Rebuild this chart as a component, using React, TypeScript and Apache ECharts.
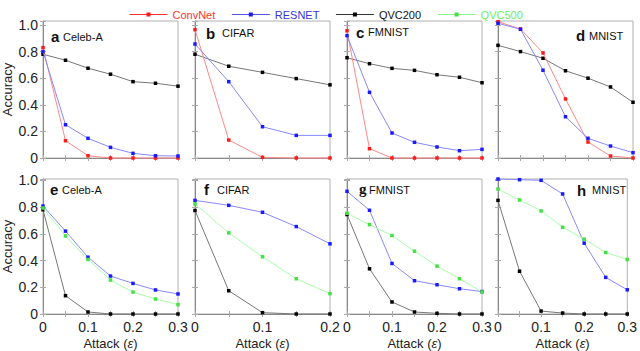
import React, { useEffect, useRef } from "react";
import * as echarts from "echarts";

// x values (attack epsilon)
const eps7 = [0, 0.05, 0.1, 0.15, 0.2, 0.25, 0.3];
const eps5 = [0, 0.05, 0.1, 0.15, 0.2];

// top row: ConvNet / RESNET / QVC200
const convA = [0.83, 0.13, 0.017, 0, 0, 0, 0];
const resA = [0.8, 0.25, 0.148, 0.08, 0.035, 0.017, 0.015];
const q200A = [0.78, 0.735, 0.675, 0.63, 0.574, 0.562, 0.54];
const convB = [0.965, 0.135, 0.005, 0, 0];
const resB = [0.857, 0.574, 0.235, 0.17, 0.17];
const q200B = [0.78, 0.69, 0.644, 0.597, 0.55];
const convC = [0.957, 0.07, 0, 0, 0, 0, 0];
const resC = [0.92, 0.494, 0.188, 0.118, 0.083, 0.055, 0.065];
const q200C = [0.754, 0.709, 0.674, 0.659, 0.626, 0.607, 0.566];
const convD = [1.025, 0.97, 0.79, 0.444, 0.12, 0.015, 0];
const resD = [1.013, 0.968, 0.66, 0.31, 0.148, 0.09, 0.04];
const q200D = [0.847, 0.8, 0.75, 0.656, 0.6, 0.534, 0.419];

// bottom row: RESNET / QVC500 / QVC200
const resE = [0.808, 0.62, 0.425, 0.284, 0.229, 0.18, 0.15];
const q500E = [0.793, 0.584, 0.408, 0.254, 0.164, 0.112, 0.07];
const q200E = [0.78, 0.137, 0.015, 0, 0, 0, 0];
const resF = [0.85, 0.813, 0.761, 0.654, 0.525];
const q500F = [0.823, 0.607, 0.428, 0.264, 0.152];
const q200F = [0.774, 0.174, 0.01, 0, 0];
const resG = [0.918, 0.776, 0.378, 0.249, 0.219, 0.189, 0.168];
const q500G = [0.754, 0.669, 0.587, 0.47, 0.358, 0.264, 0.165];
const q200G = [0.744, 0.338, 0.09, 0.015, 0.005, 0, 0];
const resH = [1.01, 1.005, 1.0, 0.898, 0.53, 0.274, 0.181];
const q500H = [0.935, 0.853, 0.771, 0.649, 0.56, 0.46, 0.408];
const q200H = [0.85, 0.32, 0.022, 0.007, 0, 0, 0];

const panelLetters = ["a", "b", "c", "d", "e", "f", "g", "h"];
const panelNames = ["Celeb-A", "CIFAR", "FMNIST", "MNIST", "Celeb-A", "CIFAR", "FMNIST", "MNIST"];
const seriesNames = ["ConvNet", "RESNET", "QVC200", "QVC500"];

const lineColor: Record<string, string> = {
  ConvNet: "#ff8888",
  RESNET: "#8888ff",
  QVC200: "#777777",
  QVC500: "#a8ffa8",
};
const markColor: Record<string, string> = {
  ConvNet: "#ff1a1a",
  RESNET: "#1a1aff",
  QVC200: "#000000",
  QVC500: "#44e044",
};
const legendLineColor: Record<string, string> = {
  ConvNet: "#ff3030",
  RESNET: "#5050e8",
  QVC200: "#333333",
  QVC500: "#88f888",
};
const legendTextColor: Record<string, string> = {
  ConvNet: "#ff3030",
  RESNET: "#3535dd",
  QVC200: "#111111",
  QVC500: "#66ee66",
};

const panels = [
  { eps: eps7, series: [["ConvNet", convA], ["RESNET", resA], ["QVC200", q200A]] },
  { eps: eps5, series: [["ConvNet", convB], ["RESNET", resB], ["QVC200", q200B]] },
  { eps: eps7, series: [["ConvNet", convC], ["RESNET", resC], ["QVC200", q200C]] },
  { eps: eps7, series: [["ConvNet", convD], ["RESNET", resD], ["QVC200", q200D]] },
  { eps: eps7, series: [["RESNET", resE], ["QVC500", q500E], ["QVC200", q200E]] },
  { eps: eps5, series: [["RESNET", resF], ["QVC500", q500F], ["QVC200", q200F]] },
  { eps: eps7, series: [["RESNET", resG], ["QVC500", q500G], ["QVC200", q200G]] },
  { eps: eps7, series: [["RESNET", resH], ["QVC500", q500H], ["QVC200", q200H]] },
] as { eps: number[]; series: [string, number[]][] }[];

const FONT = "Liberation Sans";
const lefts = [43, 195, 347, 498];
const W = 135;
const tops = [21, 179];
const heights = [137, 135];
const yMax = [1.03, 1.01];

const letterPos = [
  [51, 36], [206, 33], [356, 32], [576, 35],
  [50, 189], [204, 189], [359, 189], [577, 190],
];
const namePos = [
  [63, 37], [222, 33], [368, 32], [589, 36],
  [62, 190], [217, 190], [369, 190], [592, 190],
];

const near = (v: number, step: number) => Math.abs(v / step - Math.round(v / step)) < 1e-6;
const fmt = (v: number) => (Math.abs(v) < 1e-9 ? "0" : v.toFixed(1));

export default function App() {
  const ref = useRef<HTMLDivElement>(null);
  useEffect(() => {
    if (!ref.current) return;
    const chart = echarts.init(ref.current, undefined, { renderer: "svg" });
    const grid: any[] = [];
    const xAxis: any[] = [];
    const yAxis: any[] = [];
    const series: any[] = [];
    const graphic: any[] = [];
    const tickStyle = { show: true, inside: true, length: 3, lineStyle: { color: "#aaa" } };

    panels.forEach((p, i) => {
      const row = i < 4 ? 0 : 1;
      const col = i % 4;
      grid.push({
        left: lefts[col],
        top: tops[row],
        width: W,
        height: heights[row],
        show: true,
        borderColor: "#b0b0b0",
        borderWidth: 1,
        backgroundColor: "transparent",
      });
      const xmax = p.eps[p.eps.length - 1];
      xAxis.push({
        type: "value",
        gridIndex: i,
        min: 0,
        max: xmax,
        interval: 0.05,
        position: "bottom",
        axisLine: { show: true, lineStyle: { color: "#888" } },
        axisTick: tickStyle,
        splitLine: { show: false },
        axisLabel: {
          show: row === 1,
          margin: 6,
          fontSize: 14,
          color: "#222",
          fontFamily: FONT,
          formatter: (v: number) => (near(v, 0.1) ? fmt(v) : ""),
        },
        name: row === 1 ? "Attack ({i|ε})" : "",
        nameLocation: "middle",
        nameGap: 23,
        nameTextStyle: {
          fontSize: 13,
          color: "#222",
          fontFamily: FONT,
          rich: { i: { fontStyle: "italic", fontSize: 13, color: "#222", fontFamily: FONT } },
        },
      });
      yAxis.push({
        type: "value",
        gridIndex: i,
        min: 0,
        max: yMax[row],
        interval: 0.2,
        position: "left",
        axisLine: { show: true, lineStyle: { color: "#888" } },
        axisTick: tickStyle,
        splitLine: { show: false },
        axisLabel: {
          show: col === 0,
          margin: 5,
          fontSize: 14,
          color: "#222",
          fontFamily: FONT,
          formatter: (v: number) => (near(v, 0.2) ? fmt(v) : ""),
        },
        name: col === 0 ? "Accuracy" : "",
        nameLocation: "middle",
        nameGap: 29,
        nameTextStyle: { fontSize: 13, color: "#222", fontFamily: FONT },
      });
      p.series.forEach(([name, vals]) => {
        series.push({
          type: "line",
          name,
          xAxisIndex: i,
          yAxisIndex: i,
          data: p.eps.map((x, k) => [x, vals[k]]),
          symbol: "rect",
          symbolSize: 3.5,
          clip: false,
          lineStyle: { width: 1, color: lineColor[name] },
          itemStyle: { color: markColor[name] },
          emphasis: { disabled: true },
          z: name === "QVC200" ? 2 : 3,
        });
      });
      graphic.push({
        type: "text",
        x: letterPos[i][0],
        y: letterPos[i][1],
        style: {
          text: panelLetters[i],
          fontSize: 15,
          fontWeight: "bold",
          fontFamily: panelLetters[i] === "g" ? "Liberation Serif" : FONT,
          fill: "#111",
          verticalAlign: "middle",
          align: "left",
        },
      });
      graphic.push({
        type: "text",
        x: namePos[i][0],
        y: namePos[i][1],
        style: {
          text: panelNames[i],
          fontSize: 11,
          fontFamily: FONT,
          fill: "#111",
          verticalAlign: "middle",
          align: "left",
        },
      });
    });

    // mirrored tick axes (top and right borders)
    panels.forEach((p, i) => {
      const row = i < 4 ? 0 : 1;
      xAxis.push({
        type: "value",
        gridIndex: i,
        min: 0,
        max: p.eps[p.eps.length - 1],
        interval: 0.05,
        position: "top",
        axisLine: { show: false },
        axisTick: tickStyle,
        axisLabel: { show: false },
        splitLine: { show: false },
      });
      yAxis.push({
        type: "value",
        gridIndex: i,
        min: 0,
        max: yMax[row],
        interval: 0.2,
        position: "right",
        axisLine: { show: false },
        axisTick: tickStyle,
        axisLabel: { show: false },
        splitLine: { show: false },
      });
    });

    chart.setOption({
      animation: false,
      textStyle: { fontFamily: FONT },
      legend: {
        left: 124,
        top: 4,
        itemWidth: 38,
        itemHeight: 5,
        itemGap: 16,
        selectedMode: false,
        textStyle: { fontSize: 11, fontFamily: FONT },
        data: seriesNames.map((n) => ({
          name: n,
          textStyle: { color: legendTextColor[n] },
          lineStyle: { color: legendLineColor[n], width: 1 },
        })),
      },
      grid,
      xAxis,
      yAxis,
      series,
      graphic,
    });
    return () => chart.dispose();
  }, []);
  return (
    <div
      ref={ref}
      style={{ position: "absolute", left: 0, top: 0, width: 640, height: 351, background: "#fff" }}
    />
  );
}
